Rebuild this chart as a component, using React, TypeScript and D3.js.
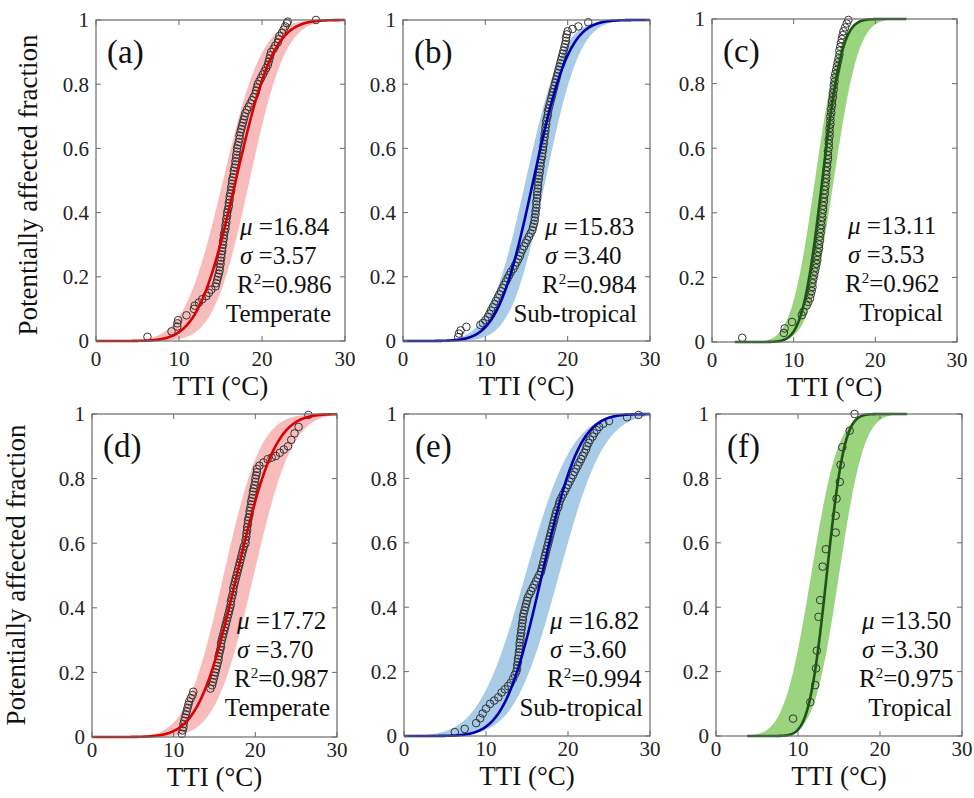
import React from 'react';
import * as d3 from 'd3';

// ---------------- data ----------------
const panelLabels = ['(a)', '(b)', '(c)', '(d)', '(e)', '(f)'];
const climateZones = ['Temperate', 'Sub-tropical', 'Tropical', 'Temperate', 'Sub-tropical', 'Tropical'];
const muValues = ['16.84', '15.83', '13.11', '17.72', '16.82', '13.50'];
const sigmaValues = ['3.57', '3.40', '3.53', '3.70', '3.60', '3.30'];
const r2Values = ['0.986', '0.984', '0.962', '0.987', '0.994', '0.975'];

// fitted curve (centre / spread as drawn) and shaded band edges
const curveCenters = [16.84, 15.83, 13.5, 17.72, 16.82, 13.5];
const curveSpreads = [3.57, 3.4, 1.9, 3.7, 3.6, 1.7];
const bandLeftCenters = [15.3, 14.9, 12.6, 16.1, 14.8, 11.6];
const bandLeftSpreads = [3.7, 3.5, 2.3, 3.6, 4.5, 2.6];
const bandRightCenters = [18.5, 17.3, 14.9, 19.8, 18.9, 15.0];
const bandRightSpreads = [3.4, 3.3, 2.4, 3.7, 4.3, 2.4];
const curveStart = [0, 0, 2.8, 0, 0, 3.8];
const curveEnd = [30, 30, 23.8, 30, 30, 23.3];

const xTicks = [0, 10, 20, 30];
const yTicks = [0, 0.2, 0.4, 0.6, 0.8, 1];
const yTickLabels = ['0', '0.2', '0.4', '0.6', '0.8', '1'];

// observed points [TTI, fraction]
const pointsA: number[][] = [
  [6.2, 0.013], [9.1, 0.03], [9.8, 0.045], [9.8, 0.055], [9.9, 0.065], [10.9, 0.08], [11.8, 0.1], [11.9, 0.11],
  [12.4, 0.12], [12.8, 0.13], [13.3, 0.14], [13.6, 0.15], [13.9, 0.16], [14.4, 0.17], [14.5, 0.18], [14.6, 0.19],
  [14.7, 0.2], [14.8, 0.21], [14.9, 0.22], [14.9, 0.23], [15.0, 0.24], [15.0, 0.25], [15.1, 0.26], [15.1, 0.27],
  [15.2, 0.28], [15.2, 0.29], [15.3, 0.3], [15.3, 0.31], [15.4, 0.32], [15.4, 0.33], [15.5, 0.34], [15.6, 0.35],
  [15.6, 0.36], [15.7, 0.37], [15.7, 0.38], [15.8, 0.39], [15.8, 0.4], [15.9, 0.41], [16.0, 0.42], [16.0, 0.43],
  [16.1, 0.44], [16.1, 0.45], [16.2, 0.46], [16.3, 0.47], [16.3, 0.48], [16.4, 0.49], [16.4, 0.5], [16.5, 0.51],
  [16.6, 0.52], [16.6, 0.53], [16.7, 0.54], [16.8, 0.55], [16.8, 0.56], [16.9, 0.57], [16.9, 0.58], [17.0, 0.59],
  [17.0, 0.6], [17.1, 0.61], [17.2, 0.62], [17.3, 0.63], [17.3, 0.64], [17.4, 0.65], [17.5, 0.66], [17.6, 0.67],
  [17.7, 0.68], [17.8, 0.69], [17.9, 0.7], [18.0, 0.71], [18.2, 0.72], [18.4, 0.73], [18.6, 0.74], [18.8, 0.75],
  [19.0, 0.76], [19.2, 0.77], [19.3, 0.78], [19.4, 0.79], [19.5, 0.8], [19.7, 0.81], [19.9, 0.82], [20.1, 0.83],
  [20.3, 0.84], [20.5, 0.85], [20.7, 0.86], [20.8, 0.87], [20.9, 0.88], [21.0, 0.89], [21.1, 0.9], [21.4, 0.91],
  [21.6, 0.92], [21.9, 0.93], [22.0, 0.94], [22.1, 0.95], [22.4, 0.96], [22.6, 0.97], [22.8, 0.98], [23.0, 0.99],
  [23.1, 0.995], [26.5, 1.0],
];
const pointsB: number[][] = [
  [6.7, 0.012], [6.8, 0.023], [7.0, 0.033], [7.7, 0.044], [9.4, 0.05], [9.7, 0.056], [10.0, 0.065], [10.3, 0.075],
  [10.5, 0.085], [10.7, 0.095], [10.9, 0.105], [11.1, 0.115], [11.3, 0.125], [11.5, 0.135], [11.7, 0.145], [11.9, 0.155],
  [12.1, 0.165], [12.3, 0.175], [12.5, 0.185], [12.7, 0.195], [12.9, 0.205], [13.1, 0.215], [13.4, 0.225], [13.6, 0.235],
  [13.8, 0.245], [14.0, 0.255], [14.2, 0.265], [14.3, 0.275], [14.5, 0.285], [14.7, 0.295], [14.9, 0.305], [15.1, 0.315],
  [15.3, 0.325], [15.5, 0.335], [15.7, 0.345], [15.8, 0.355], [15.9, 0.365], [16.0, 0.375], [16.0, 0.385], [16.1, 0.395],
  [16.1, 0.405], [16.2, 0.415], [16.2, 0.425], [16.2, 0.435], [16.3, 0.445], [16.3, 0.455], [16.3, 0.465], [16.4, 0.475],
  [16.4, 0.485], [16.4, 0.495], [16.5, 0.505], [16.5, 0.515], [16.6, 0.525], [16.6, 0.535], [16.7, 0.545], [16.7, 0.555],
  [16.8, 0.565], [16.9, 0.575], [16.9, 0.585], [17.0, 0.595], [17.0, 0.605], [17.1, 0.615], [17.1, 0.625], [17.2, 0.635],
  [17.2, 0.645], [17.3, 0.655], [17.3, 0.665], [17.4, 0.675], [17.4, 0.685], [17.5, 0.695], [17.6, 0.705], [17.6, 0.715],
  [17.7, 0.725], [17.8, 0.735], [17.9, 0.745], [18.0, 0.755], [18.1, 0.765], [18.2, 0.775], [18.3, 0.785], [18.4, 0.795],
  [18.5, 0.805], [18.6, 0.815], [18.7, 0.825], [18.8, 0.835], [18.9, 0.845], [19.0, 0.855], [19.1, 0.865], [19.2, 0.875],
  [19.3, 0.885], [19.4, 0.895], [19.5, 0.905], [19.6, 0.915], [19.7, 0.925], [19.8, 0.935], [19.8, 0.945], [19.9, 0.955],
  [20.0, 0.965], [20.6, 0.972], [21.3, 0.98], [22.5, 0.993],
];
const pointsC: number[][] = [
  [3.7, 0.013], [8.8, 0.028], [8.9, 0.042], [9.8, 0.062], [11.0, 0.083], [11.2, 0.094], [11.6, 0.113], [11.8, 0.124],
  [12.0, 0.135], [12.1, 0.147], [12.2, 0.158], [12.3, 0.17], [12.3, 0.182], [12.4, 0.194], [12.5, 0.206], [12.6, 0.218],
  [12.7, 0.23], [12.8, 0.242], [12.9, 0.254], [12.9, 0.266], [13.0, 0.278], [13.1, 0.29], [13.1, 0.302], [13.2, 0.314],
  [13.2, 0.326], [13.3, 0.338], [13.3, 0.35], [13.4, 0.362], [13.4, 0.374], [13.5, 0.386], [13.5, 0.398], [13.6, 0.41],
  [13.6, 0.422], [13.7, 0.434], [13.7, 0.446], [13.8, 0.458], [13.8, 0.47], [13.9, 0.482], [13.9, 0.494], [14.0, 0.506],
  [14.0, 0.518], [14.0, 0.53], [14.1, 0.542], [14.1, 0.554], [14.2, 0.566], [14.2, 0.578], [14.2, 0.59], [14.3, 0.602],
  [14.3, 0.614], [14.3, 0.626], [14.4, 0.638], [14.4, 0.65], [14.4, 0.662], [14.5, 0.674], [14.5, 0.686], [14.5, 0.698],
  [14.6, 0.71], [14.6, 0.722], [14.7, 0.734], [14.7, 0.746], [14.8, 0.758], [14.8, 0.77], [14.9, 0.782], [14.9, 0.794],
  [15.0, 0.806], [15.0, 0.818], [15.1, 0.83], [15.2, 0.842], [15.3, 0.854], [15.4, 0.866], [15.5, 0.878], [15.6, 0.89],
  [15.6, 0.902], [15.7, 0.914], [15.8, 0.926], [15.9, 0.938], [16.0, 0.95], [16.1, 0.962], [16.3, 0.974], [16.5, 0.986],
  [16.7, 0.997],
];
const pointsD: number[][] = [
  [11.0, 0.01], [11.1, 0.02], [11.2, 0.03], [11.2, 0.04], [11.3, 0.05], [11.4, 0.06], [11.5, 0.07], [11.6, 0.08],
  [11.7, 0.09], [11.8, 0.1], [11.9, 0.11], [12.1, 0.12], [12.3, 0.13], [12.4, 0.14], [14.5, 0.15], [14.7, 0.16],
  [14.8, 0.17], [14.9, 0.18], [15.0, 0.19], [15.1, 0.2], [15.2, 0.21], [15.3, 0.22], [15.4, 0.23], [15.5, 0.24],
  [15.5, 0.25], [15.6, 0.26], [15.7, 0.27], [15.8, 0.28], [15.8, 0.29], [15.9, 0.3], [16.0, 0.31], [16.1, 0.32],
  [16.2, 0.33], [16.3, 0.34], [16.4, 0.35], [16.5, 0.36], [16.6, 0.37], [16.7, 0.38], [16.8, 0.39], [16.9, 0.4],
  [17.0, 0.41], [17.0, 0.42], [17.1, 0.43], [17.2, 0.44], [17.3, 0.45], [17.3, 0.46], [17.4, 0.47], [17.5, 0.48],
  [17.6, 0.49], [17.7, 0.5], [17.8, 0.51], [17.9, 0.52], [18.0, 0.53], [18.1, 0.54], [18.2, 0.55], [18.3, 0.56],
  [18.4, 0.57], [18.5, 0.58], [18.6, 0.59], [18.8, 0.6], [18.8, 0.61], [18.9, 0.62], [18.9, 0.63], [19.0, 0.64],
  [19.0, 0.65], [19.1, 0.66], [19.1, 0.67], [19.2, 0.68], [19.3, 0.69], [19.3, 0.7], [19.4, 0.71], [19.5, 0.72],
  [19.5, 0.73], [19.6, 0.74], [19.7, 0.75], [19.7, 0.76], [19.8, 0.77], [19.9, 0.78], [20.0, 0.79], [20.0, 0.8],
  [20.1, 0.81], [20.2, 0.82], [20.2, 0.83], [20.5, 0.84], [21.0, 0.85], [21.5, 0.86], [22.0, 0.865], [22.5, 0.87],
  [23.0, 0.88], [23.5, 0.89], [24.0, 0.9], [24.4, 0.92], [24.8, 0.94], [25.3, 0.96], [26.5, 0.997],
];
const pointsE: number[][] = [
  [6.2, 0.012], [7.4, 0.022], [8.8, 0.04], [9.3, 0.055], [9.6, 0.07], [10.0, 0.085], [10.5, 0.1], [11.0, 0.11],
  [11.5, 0.12], [11.9, 0.135], [12.3, 0.145], [12.7, 0.155], [13.0, 0.165], [13.3, 0.178], [13.5, 0.19], [13.7, 0.2],
  [13.8, 0.21], [13.8, 0.22], [13.9, 0.23], [13.9, 0.24], [14.0, 0.25], [14.0, 0.26], [14.1, 0.27], [14.1, 0.28],
  [14.1, 0.29], [14.2, 0.3], [14.2, 0.31], [14.3, 0.32], [14.3, 0.33], [14.4, 0.34], [14.4, 0.35], [14.5, 0.36],
  [14.5, 0.37], [14.6, 0.38], [14.7, 0.39], [14.8, 0.4], [14.9, 0.41], [15.0, 0.42], [15.1, 0.43], [15.3, 0.44],
  [15.5, 0.45], [15.7, 0.46], [15.9, 0.47], [16.1, 0.48], [16.3, 0.49], [16.5, 0.5], [16.7, 0.51], [16.8, 0.52],
  [16.9, 0.53], [17.0, 0.54], [17.1, 0.55], [17.2, 0.56], [17.3, 0.57], [17.4, 0.58], [17.5, 0.59], [17.6, 0.6],
  [17.7, 0.61], [17.8, 0.62], [17.9, 0.63], [18.0, 0.64], [18.1, 0.65], [18.2, 0.66], [18.3, 0.67], [18.4, 0.68],
  [18.5, 0.69], [18.6, 0.7], [18.8, 0.71], [18.9, 0.72], [19.0, 0.73], [19.2, 0.74], [19.4, 0.75], [19.6, 0.76],
  [19.8, 0.77], [20.0, 0.78], [20.2, 0.79], [20.4, 0.8], [20.6, 0.81], [20.8, 0.82], [21.0, 0.83], [21.2, 0.84],
  [21.4, 0.85], [21.6, 0.86], [21.8, 0.87], [22.0, 0.88], [22.2, 0.89], [22.3, 0.9], [22.5, 0.91], [22.7, 0.92],
  [23.0, 0.93], [23.2, 0.94], [23.5, 0.95], [23.8, 0.96], [24.3, 0.97], [25.0, 0.978], [27.2, 0.99], [28.6, 0.997],
];
const pointsF: number[][] = [
  [9.4, 0.054], [11.5, 0.105], [12.1, 0.158], [12.2, 0.21], [12.3, 0.265], [12.5, 0.37], [12.7, 0.422],
  [13.0, 0.526], [13.4, 0.58], [14.6, 0.632], [14.6, 0.684], [14.7, 0.737], [15.1, 0.789], [15.2, 0.842],
  [15.4, 0.897], [16.3, 0.948], [16.9, 1.0],
];
const allPoints = [pointsA, pointsB, pointsC, pointsD, pointsE, pointsF];

// ---------------- styling / layout ----------------
const zoneStyle: Record<string, { line: string; band: string }> = {
  Temperate: { line: '#dc0000', band: '#f8bcbc' },
  'Sub-tropical': { line: '#0000b0', band: '#a8cbe8' },
  Tropical: { line: '#1f5418', band: '#9ad47e' },
};

const layouts = [
  { left: 96, right: 345, top: 20, bottom: 341, row: 0, textLeft: 105, textRight: 14 },
  { left: 403, right: 650, top: 20, bottom: 341, row: 0, textLeft: 105, textRight: 13 },
  { left: 712, right: 957, top: 19, bottom: 342, row: 0, textLeft: 109, textRight: 14 },
  { left: 92, right: 337, top: 414, bottom: 737, row: 1, textLeft: 100, textRight: 7 },
  { left: 404, right: 650, top: 414, bottom: 736, row: 1, textLeft: 100, textRight: 7 },
  { left: 716, right: 962, top: 414, bottom: 736, row: 1, textLeft: 100, textRight: 10 },
];

const FONT = '"Liberation Serif", "Times New Roman", Times, serif';

function erf(v: number) {
  const s = v < 0 ? -1 : 1;
  const a = Math.abs(v);
  const t = 1 / (1 + 0.3275911 * a);
  const y = 1 - ((((1.061405429 * t - 1.453152027) * t + 1.421413741) * t - 0.284496736) * t + 0.254829592) * t * Math.exp(-a * a);
  return s * y;
}
function normCdf(v: number, m: number, s: number) {
  return 0.5 * (1 + erf((v - m) / (s * Math.SQRT2)));
}

function Panel({ i }: { i: number }) {
  const L = layouts[i];
  const zone = climateZones[i];
  const st = zoneStyle[zone];
  const x = d3.scaleLinear().domain([0, 30]).range([L.left, L.right]);
  const y = d3.scaleLinear().domain([0, 1]).range([L.bottom, L.top]);
  const xs = d3.range(curveStart[i], curveEnd[i] + 1e-6, 0.05);

  const line = d3
    .line<number>()
    .x((v) => x(v))
    .y((v) => y(normCdf(v, curveCenters[i], curveSpreads[i])));
  const area = d3
    .area<number>()
    .x((v) => x(v))
    .y0((v) => y(Math.min(normCdf(v, bandLeftCenters[i], bandLeftSpreads[i]), normCdf(v, bandRightCenters[i], bandRightSpreads[i]))))
    .y1((v) => y(Math.max(normCdf(v, bandLeftCenters[i], bandLeftSpreads[i]), normCdf(v, bandRightCenters[i], bandRightSpreads[i]))));

  const tickLen = 5;
  const axisColor = '#6a6a6a';
  const tickBase = L.row === 0 ? 25 : 20;
  const titleBase = L.row === 0 ? 54 : 49;
  const tx = L.right - L.textLeft;
  const lineBases = [215, 244, 273, 302].map((d) => L.top + d);

  return (
    <g>
      <path d={area(xs) || ''} fill={st.band} stroke="none" />
      {allPoints[i].map((p, k) => (
        <circle key={k} cx={x(p[0])} cy={y(p[1])} r={3.8} fill="none" stroke="#333" strokeWidth={1} />
      ))}
      <path d={line(xs) || ''} fill="none" stroke={st.line} strokeWidth={2.6} />
      {/* frame */}
      <rect x={L.left} y={L.top} width={L.right - L.left} height={L.bottom - L.top} fill="none" stroke={axisColor} strokeWidth={1.2} />
      {xTicks.map((t) => (
        <g key={'xt' + t}>
          <line x1={x(t)} x2={x(t)} y1={L.bottom} y2={L.bottom - tickLen} stroke={axisColor} />
          <line x1={x(t)} x2={x(t)} y1={L.top} y2={L.top + tickLen} stroke={axisColor} />
          <text x={x(t)} y={L.bottom + tickBase} textAnchor="middle" fontSize={21} fontFamily={FONT} fill="#222">
            {t}
          </text>
        </g>
      ))}
      {yTicks.map((t, k) => (
        <g key={'yt' + t}>
          <line x1={L.left} x2={L.left + tickLen} y1={y(t)} y2={y(t)} stroke={axisColor} />
          <line x1={L.right} x2={L.right - tickLen} y1={y(t)} y2={y(t)} stroke={axisColor} />
          <text x={L.left - 7} y={y(t)} dy="0.35em" textAnchor="end" fontSize={21} fontFamily={FONT} fill="#222">
            {yTickLabels[k]}
          </text>
        </g>
      ))}
      <text x={(L.left + L.right) / 2} y={L.bottom + titleBase} textAnchor="middle" fontSize={27} fontFamily={FONT} fill="#111">
        TTI (°C)
      </text>
      <text x={L.left + 11} y={L.top + 43} fontSize={33} fontFamily={FONT} fill="#111">
        {panelLabels[i]}
      </text>
      <text x={tx} y={lineBases[0]} fontSize={25} fontFamily={FONT} fill="#111">
        <tspan fontStyle="italic">μ</tspan> =
        {muValues[i]}
      </text>
      <text x={tx} y={lineBases[1]} fontSize={25} fontFamily={FONT} fill="#111">
        <tspan fontStyle="italic">σ</tspan> =
        {sigmaValues[i]}
      </text>
      <text x={tx - 3} y={lineBases[2]} fontSize={25} fontFamily={FONT} fill="#111">
        R<tspan dy={-9} fontSize={15}>2</tspan>
        <tspan dy={9}>={r2Values[i]}</tspan>
      </text>
      <text x={L.right - L.textRight} y={lineBases[3]} textAnchor="end" fontSize={25} fontFamily={FONT} fill="#111">
        {zone}
      </text>
    </g>
  );
}

export default function App() {
  return (
    <svg
      width={974}
      height={798}
      viewBox="0 0 974 798"
      style={{ position: 'absolute', left: 0, top: 0, background: '#fff' }}
    >
      <rect x={0} y={0} width={974} height={798} fill="#fff" />
      {layouts.map((_, i) => (
        <Panel key={i} i={i} />
      ))}
      <text transform="translate(37,185) rotate(-90)" textAnchor="middle" fontSize={27} fontFamily={FONT} fill="#111">
        Potentially affected fraction
      </text>
      <text transform="translate(25,575) rotate(-90)" textAnchor="middle" fontSize={27} fontFamily={FONT} fill="#111">
        Potentially affected fraction
      </text>
    </svg>
  );
}
